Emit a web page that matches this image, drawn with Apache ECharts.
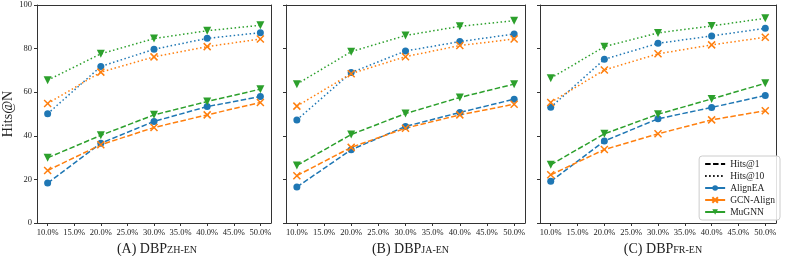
<!DOCTYPE html>
<html><head><meta charset="utf-8">
<script src="https://cdn.jsdelivr.net/npm/echarts@6/dist/echarts.min.js"></script>
<style>html,body{margin:0;padding:0;background:#fff}#c{width:785px;height:256px}</style>
</head><body><div id="c"></div>
<script>
const xValues = [10, 20, 30, 40, 50];
const xTickValues = [10, 15, 20, 25, 30, 35, 40, 45, 50];
const methods = ['AlignEA', 'GCN-Align', 'MuGNN'];
const panelTitles = [['(A) DBP', 'ZH-EN'], ['(B) DBP', 'JA-EN'], ['(C) DBP', 'FR-EN']];

// Panel A: DBP ZH-EN
const zhAlignEAHits1 = [18.3, 36.6, 46.6, 53.4, 58.0];
const zhAlignEAHits10 = [50.1, 71.8, 79.7, 84.7, 87.3];
const zhGCNHits1 = [24.1, 35.9, 43.8, 49.6, 55.3];
const zhGCNHits10 = [54.8, 69.2, 76.2, 80.9, 84.4];
const zhMuGNNHits1 = [29.9, 40.2, 49.6, 55.7, 61.4];
const zhMuGNNHits10 = [65.5, 77.6, 84.6, 88.2, 90.7];

// Panel B: DBP JA-EN
const jaAlignEAHits1 = [16.5, 33.6, 44.3, 50.7, 56.8];
const jaAlignEAHits10 = [47.3, 69.0, 78.9, 83.2, 86.7];
const jaGCNHits1 = [21.7, 34.7, 43.5, 49.6, 54.5];
const jaGCNHits10 = [53.6, 68.5, 76.3, 81.4, 84.4];
const jaMuGNNHits1 = [26.4, 40.6, 50.2, 57.6, 63.7];
const jaMuGNNHits10 = [63.7, 78.6, 86.0, 90.2, 92.8];

// Panel C: DBP FR-EN
const frAlignEAHits1 = [19.1, 37.6, 47.8, 53.0, 58.5];
const frAlignEAHits10 = [53.1, 75.1, 82.4, 85.8, 89.3];
const frGCNHits1 = [22.1, 33.7, 40.9, 47.3, 51.5];
const frGCNHits10 = [55.3, 70.2, 77.6, 81.7, 85.2];
const frMuGNNHits1 = [26.7, 40.9, 49.9, 56.9, 64.1];
const frMuGNNHits10 = [66.4, 80.9, 87.2, 90.4, 93.9];

const panels = [
  {h1: [zhAlignEAHits1, zhGCNHits1, zhMuGNNHits1], h10: [zhAlignEAHits10, zhGCNHits10, zhMuGNNHits10]},
  {h1: [jaAlignEAHits1, jaGCNHits1, jaMuGNNHits1], h10: [jaAlignEAHits10, jaGCNHits10, jaMuGNNHits10]},
  {h1: [frAlignEAHits1, frGCNHits1, frMuGNNHits1], h10: [frAlignEAHits10, frGCNHits10, frMuGNNHits10]}
];

const colors = ['#1f77b4', '#ff7f0e', '#2ca02c'];
const xPath = 'path://M0,0L10,10M10,0L0,10';
const symbols = ['circle', xPath, 'triangle'];
const symbolSizes = [7, 7, 8];
const symbolRotates = [0, 0, 180];
const dashType = [5.5, 2.4];
const dotType = [1.5, 2.5];
const serif = '"Liberation Serif", "DejaVu Serif", serif';

const gridDefs = [
  {left: 33, top: 5, width: 238, height: 218},
  {left: 286, top: 5, width: 239, height: 218},
  {left: 540, top: 5, width: 236, height: 218}
];

const grids = [], xAxes = [], yAxes = [], series = [], titles = [];
gridDefs.forEach((g, p) => {
  grids.push(Object.assign({containLabel: false}, g));
  xAxes.push({
    type: 'value', gridIndex: p, min: 8, max: 52,
    axisLine: {show: true, lineStyle: {color: '#333', width: 1}},
    splitLine: {show: false},
    axisTick: {show: true, length: 3, customValues: xTickValues, lineStyle: {color: '#333'}},
    axisLabel: {customValues: xTickValues, formatter: v => v.toFixed(1) + '%', fontFamily: serif, fontSize: 8.5, color: '#222', margin: 5}
  });
  yAxes.push({
    type: 'value', gridIndex: p, min: 0, max: 100, interval: 20,
    axisLine: {show: true, lineStyle: {color: '#333', width: 1}},
    splitLine: {show: false},
    axisTick: {show: true, length: 3, lineStyle: {color: '#333'}},
    axisLabel: {show: p === 0, fontFamily: serif, fontSize: 8.5, color: '#222', margin: 5},
    name: p === 0 ? 'Hits@N' : '', nameLocation: 'middle', nameGap: 22,
    nameTextStyle: {fontFamily: serif, fontSize: 14, color: '#222'}
  });
  // frame top/right via extra axes
  xAxes.push({type: 'value', gridIndex: p, position: 'top', min: 0, max: 1,
    axisLine: {show: true, onZero: false, lineStyle: {color: '#333'}}, axisTick: {show: false}, axisLabel: {show: false}, splitLine: {show: false}});
  yAxes.push({type: 'value', gridIndex: p, position: 'right', min: 0, max: 1,
    axisLine: {show: true, onZero: false, lineStyle: {color: '#333'}}, axisTick: {show: false}, axisLabel: {show: false}, splitLine: {show: false}});
  const xi = p * 2, yi = p * 2;
  ['h1', 'h10'].forEach(key => {
    panels[p][key].forEach((vals, m) => {
      series.push({
        type: 'line', name: methods[m], xAxisIndex: xi, yAxisIndex: yi,
        data: xValues.map((x, i) => [x, vals[i]]),
        symbol: symbols[m], symbolSize: symbolSizes[m], symbolRotate: symbolRotates[m],
        showAllSymbol: true, animation: false, silent: true,
        lineStyle: {color: colors[m], width: 1.5, type: key === 'h1' ? dashType : dotType},
        itemStyle: {color: colors[m], borderColor: colors[m], borderWidth: m === 1 ? 1.5 : 0},
        z: 3
      });
    });
  });
  titles.push({
    text: '{a|' + panelTitles[p][0] + '}{b|' + panelTitles[p][1] + '}',
    left: g.left + g.width / 2, top: 237, textAlign: 'center',
    textStyle: {fontWeight: 'normal', rich: {
      a: {fontFamily: serif, fontSize: 14, fontWeight: 'normal', color: '#222'},
      b: {fontFamily: serif, fontSize: 10, fontWeight: 'normal', color: '#222', verticalAlign: 'bottom', padding: [0, 0, 1, 0]}
    }}
  });
});

// legend-only style series (line style keys)
series.push({type: 'line', name: 'Hits@1', xAxisIndex: 4, yAxisIndex: 4, data: [['-', '-']], symbol: 'none',
  lineStyle: {color: '#000', width: 1.5, type: dashType}, itemStyle: {color: '#000'}});
series.push({type: 'line', name: 'Hits@10', xAxisIndex: 4, yAxisIndex: 4, data: [['-', '-']], symbol: 'none',
  lineStyle: {color: '#000', width: 1.5, type: dotType}, itemStyle: {color: '#000'}});

const chart = echarts.init(document.getElementById('c'), null, {renderer: 'canvas'});
chart.setOption({
  animation: false,
  title: titles,
  grid: grids, xAxis: xAxes, yAxis: yAxes, series: series,
  legend: {
    orient: 'vertical', right: 5, top: 156,
    itemWidth: 20, itemHeight: 7, itemGap: 2,
    padding: [3, 5, 3, 5],
    backgroundColor: 'rgba(255,255,255,0.85)', borderColor: '#ccc', borderWidth: 1, borderRadius: 3,
    textStyle: {fontFamily: serif, fontSize: 9.5, color: '#222'},
    data: [
      {name: 'Hits@1', itemStyle: {opacity: 0}},
      {name: 'Hits@10', itemStyle: {opacity: 0}},
      {name: 'AlignEA', lineStyle: {type: 'solid'}},
      {name: 'GCN-Align', lineStyle: {type: 'solid'}},
      {name: 'MuGNN', lineStyle: {type: 'solid'}}
    ]
  }
});
</script></body></html>
